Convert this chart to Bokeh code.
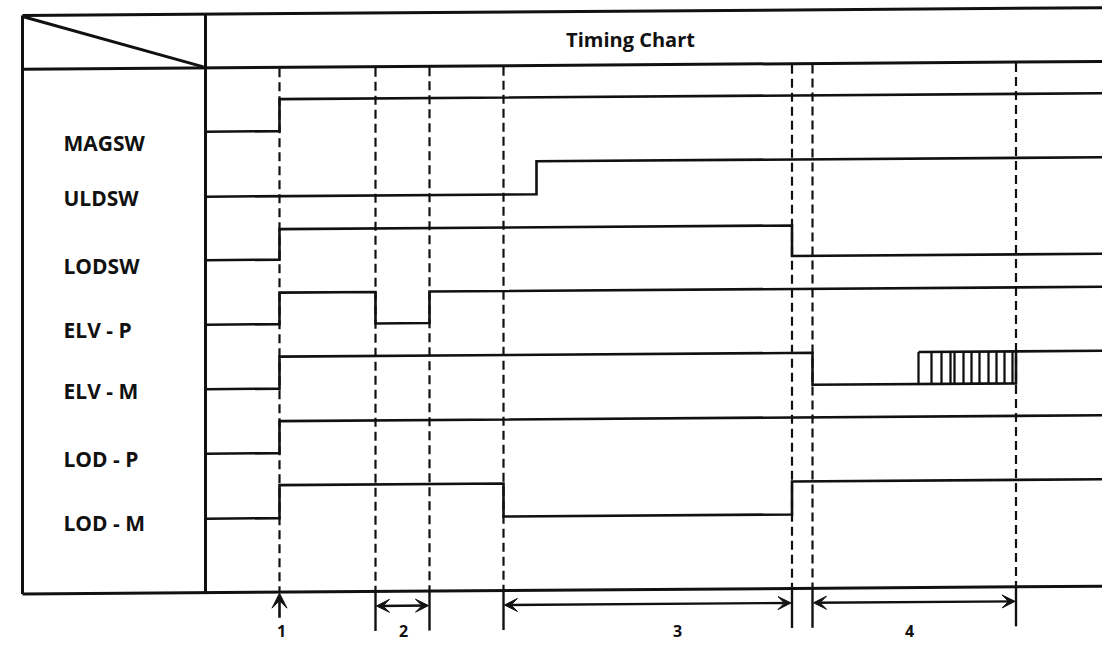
from bokeh.plotting import figure
from bokeh.models import Range1d, Arrow, VeeHead
from bokeh.embed import file_html
from bokeh.resources import INLINE
from bokeh.core.properties import value

# ---------------- data ----------------
signals = ["MAGSW", "ULDSW", "LODSW", "ELV - P", "ELV - M", "LOD - P", "LOD - M"]
label_center = [142.5, 197.5, 265, 329, 390.5, 458, 522.5]
low_level = [132.5, 197.5, 261.0, 325.5, 390.0, 454.5, 519.5]
high_level = [100.5, 164.5, 230.5, 294.0, 358.0, 422.5, 486.5]

# transition times (start of each state) and states (0 = low, 1 = high)
sig_times = [
    [205, 279],
    [205, 536],
    [205, 279, 791.5],
    [205, 279, 375, 429],
    [205, 279, 812, 1015.5],
    [205, 279],
    [205, 279, 503, 791.5],
]
sig_states = [
    [0, 1],
    [0, 1],
    [0, 1, 0],
    [0, 1, 0, 1],
    [0, 1, 0, 1],
    [0, 1],
    [0, 1, 0, 1],
]

# pulsing section of ELV-M (hatched box)
pulse_row = 4
pulse_start, pulse_end = 918, 1015.5
pulse_bars = [918, 931, 941, 950, 954, 963, 971, 979, 988, 996, 1004, 1012]

# timing markers
markers = [279, 375, 429, 503, 791.5, 812, 1015.5]
interval_labels = ["1", "2", "3", "4"]
interval_label_x = [281, 403, 677, 909]
intervals = [(375, 429), (503, 791.5), (812, 1015.5)]

title_text = "Timing Chart"

# table geometry (chart units)
X_LEFT, X_DIV, X_END = 22, 205, 1130
Y_TOP, Y_HEAD, Y_BOT = 15, 68.7, 593.5
Y_ARROW, Y_TICK_END, Y_ARROW1_END = 608, 633, 619
SLOPE = 0.0072  # slight skew of the scanned sheet


def sy(x, y):
    return y - SLOPE * (x - X_LEFT)


p = figure(width=1102, height=640, x_range=Range1d(0, 1102), y_range=Range1d(640, 0),
           min_border=0, toolbar_location=None, output_backend="svg")
p.axis.visible = False
p.grid.visible = False
p.outline_line_color = None
p.background_fill_color = "white"

BLACK = "#111111"

# table frame
frame_x0 = [X_LEFT, X_LEFT, X_LEFT, X_LEFT, X_DIV, X_LEFT]
frame_y0 = [Y_TOP, Y_HEAD, Y_BOT, Y_TOP, Y_TOP, Y_TOP + 1]
frame_x1 = [X_END, X_END, X_END, X_LEFT, X_DIV, X_DIV - 2]
frame_y1 = [Y_TOP, Y_HEAD, Y_BOT, Y_BOT, Y_BOT, Y_HEAD - 1]
p.segment(x0=frame_x0, y0=[sy(x, y) for x, y in zip(frame_x0, frame_y0)],
          x1=frame_x1, y1=[sy(x, y) for x, y in zip(frame_x1, frame_y1)],
          line_color=BLACK, line_width=3)

# dashed timing markers
p.segment(x0=markers, y0=[sy(m, Y_HEAD + 1) for m in markers],
          x1=markers, y1=[sy(m, Y_BOT - 1) for m in markers],
          line_color=BLACK, line_width=2.2, line_dash="9 5")

# signal step lines
for i in range(len(signals)):
    xs, ys = [], []
    prev = None
    for t, s in zip(sig_times[i], sig_states[i]):
        lvl = high_level[i] if s else low_level[i]
        if prev is not None:
            xs.append(t)
            ys.append(sy(t, prev))
        xs.append(t)
        ys.append(sy(t, lvl))
        prev = lvl
    xs.append(X_END)
    ys.append(sy(X_END, prev))
    p.line(xs, ys, line_color=BLACK, line_width=2.6, line_join="miter")

# hatched pulse box of ELV-M
hi, lo = high_level[pulse_row], low_level[pulse_row]
p.segment(x0=[pulse_start], y0=[sy(pulse_start, hi)], x1=[pulse_end], y1=[sy(pulse_end, hi)],
          line_color=BLACK, line_width=2.6)
p.segment(x0=pulse_bars, y0=[sy(b, hi) for b in pulse_bars],
          x1=pulse_bars, y1=[sy(b, lo) for b in pulse_bars],
          line_color=BLACK, line_width=2.3)

# ticks below the table
ticks = markers[1:]
p.segment(x0=ticks, y0=[sy(t, Y_BOT) for t in ticks],
          x1=ticks, y1=[sy(t, Y_TICK_END) for t in ticks],
          line_color=BLACK, line_width=2.4)

# arrow for point 1
m1 = markers[0]
p.add_layout(Arrow(end=VeeHead(size=15, fill_color=BLACK, line_color=BLACK, line_width=1),
                   x_start=m1, y_start=sy(m1, Y_ARROW1_END), x_end=m1, y_end=sy(m1, Y_BOT + 1),
                   line_color=BLACK, line_width=2.6))

# double arrows for intervals 2-4
for a, b in intervals:
    p.add_layout(Arrow(start=VeeHead(size=13, fill_color=BLACK, line_color=BLACK, line_width=1),
                       end=VeeHead(size=13, fill_color=BLACK, line_color=BLACK, line_width=1),
                       x_start=a + 1, y_start=sy(a, Y_ARROW), x_end=b - 1, y_end=sy(b, Y_ARROW),
                       line_color=BLACK, line_width=2.4))

# texts
p.text(x=[63] * len(signals), y=label_center, text=signals,
       text_font=value("Open Sans"), text_font_style="bold", text_font_size="21px",
       text_baseline="middle", text_align="left", text_color=BLACK)
p.text(x=[630], y=[38.5], text=[title_text],
       text_font=value("Open Sans"), text_font_style="bold", text_font_size="20px",
       text_baseline="middle", text_align="center", text_color=BLACK)
p.text(x=interval_label_x, y=[630] * len(interval_labels), text=interval_labels,
       text_font=value("Open Sans"), text_font_style="bold", text_font_size="16px",
       text_baseline="middle", text_align="center", text_color=BLACK)

open("out.html", "w").write(file_html(p, INLINE))
